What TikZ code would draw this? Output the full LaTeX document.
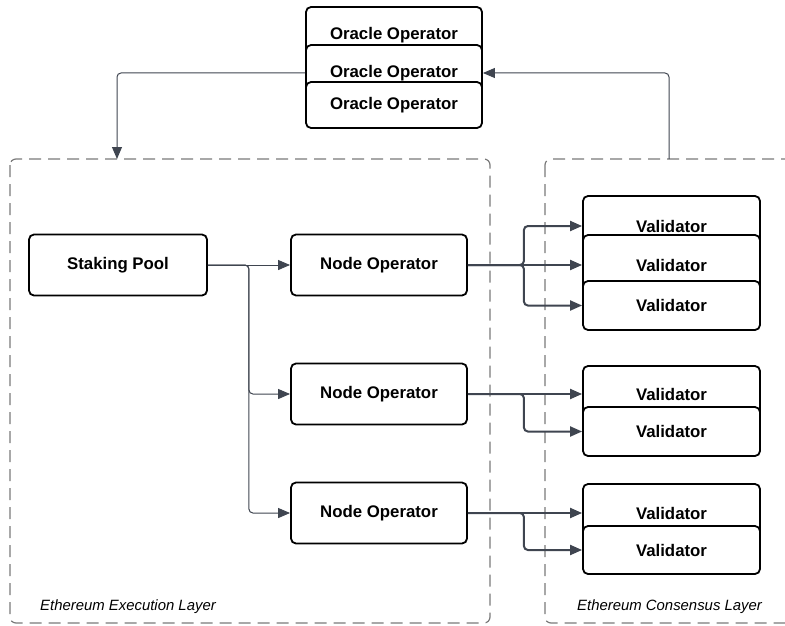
\documentclass[tikz,border=0pt]{standalone}
\usepackage{fontspec}
\setmainfont{Liberation Sans}
\usetikzlibrary{arrows.meta}
\definecolor{conn}{HTML}{3F4550}
\definecolor{dashgray}{HTML}{7A7A7A}
\tikzset{
  box/.style={draw=black, line width=1.8pt, rounded corners=5pt, fill=white,
    font=\fontsize{16.8}{18}\selectfont\bfseries, inner sep=0pt},
  orabox/.style={box, minimum width=176pt},
  valbox/.style={box, minimum width=177pt},
  opbox/.style={box, minimum width=176pt, minimum height=61pt},
  layer/.style={draw=dashgray, line width=1.2pt, dash pattern=on 12pt off 7pt, rounded corners=6pt},
  layerlabel/.style={font=\fontsize{14.9}{16}\selectfont\itshape, anchor=west, inner sep=0pt},
  thinconn/.style={draw=conn, line width=1pt, rounded corners=4pt, -{Triangle[length=12pt,width=10pt]}},
  thickconn/.style={draw=conn, line width=2pt, rounded corners=4pt, -{Triangle[length=12pt,width=10pt]}},
}
\begin{document}
\begin{tikzpicture}[x=1pt, y=-1pt]
\useasboundingbox (0,0) rectangle (785,626);
\clip (0,0) rectangle (785,626);
% layers
\path[layer] (10,159) rectangle (490,623);
\path[layer] (545,159) rectangle (820,623);
\node[layerlabel] (l1label) at (40,607) {Ethereum Execution Layer};
\node[layerlabel] (l2label) at (577,607) {Ethereum Consensus Layer};
\coordinate (l1in) at (117,159);
\coordinate (l2out) at (669,159);
% oracle operators
\node[orabox, minimum height=56pt] (o1) at (394,35) {Oracle Operator};
\node[orabox, minimum height=56pt] (o2) at (394,73) {Oracle Operator};
\node[orabox, minimum height=46pt] (o3) at (394,105) {Oracle Operator};
% staking pool and node operators
\node[box, minimum width=178pt, minimum height=61pt] (sp) at (118,265) {Staking Pool};
\node[opbox] (no1) at (379,265) {Node Operator};
\node[opbox] (no2) at (379,394) {Node Operator};
\node[opbox] (no3) at (379,513) {Node Operator};
% validators group 1
\node[valbox, minimum height=60pt] (v11) at (671.5,226) {Validator};
\node[valbox, minimum height=60pt] (v12) at (671.5,265) {Validator};
\node[valbox, minimum height=49pt] (v13) at (671.5,305.5) {Validator};
% group 2
\node[valbox, minimum height=56pt] (v21) at (671.5,394) {Validator};
\node[valbox, minimum height=49pt] (v22) at (671.5,431.5) {Validator};
% group 3
\node[valbox, minimum height=58pt] (v31) at (671.5,513) {Validator};
\node[valbox, minimum height=48pt] (v32) at (671.5,550) {Validator};
% connectors oracle
\draw[thinconn] (o2.west) -| (l1in);
\draw[thinconn] (l2out) |- (o2.east);
% staking pool to node operators
\draw[thinconn] (sp.east) -- (no1.west);
\draw[thinconn] (sp.east) -- ++(41,0) |- (no2.west);
\draw[thinconn] (sp.east) -- ++(41,0) |- (no3.west);
% node operators to validators
\draw[thickconn] (no1.east) -- (v12.west);
\draw[thickconn] (no1.east) -- ++(56,0) |- (v11.west);
\draw[thickconn] (no1.east) -- ++(56,0) |- (v13.west);
\draw[thickconn] (no2.east) -- (v21.west);
\draw[thickconn] (no2.east) -- ++(56,0) |- (v22.west);
\draw[thickconn] (no3.east) -- (v31.west);
\draw[thickconn] (no3.east) -- ++(56,0) |- (v32.west);
\end{tikzpicture}
\end{document}
